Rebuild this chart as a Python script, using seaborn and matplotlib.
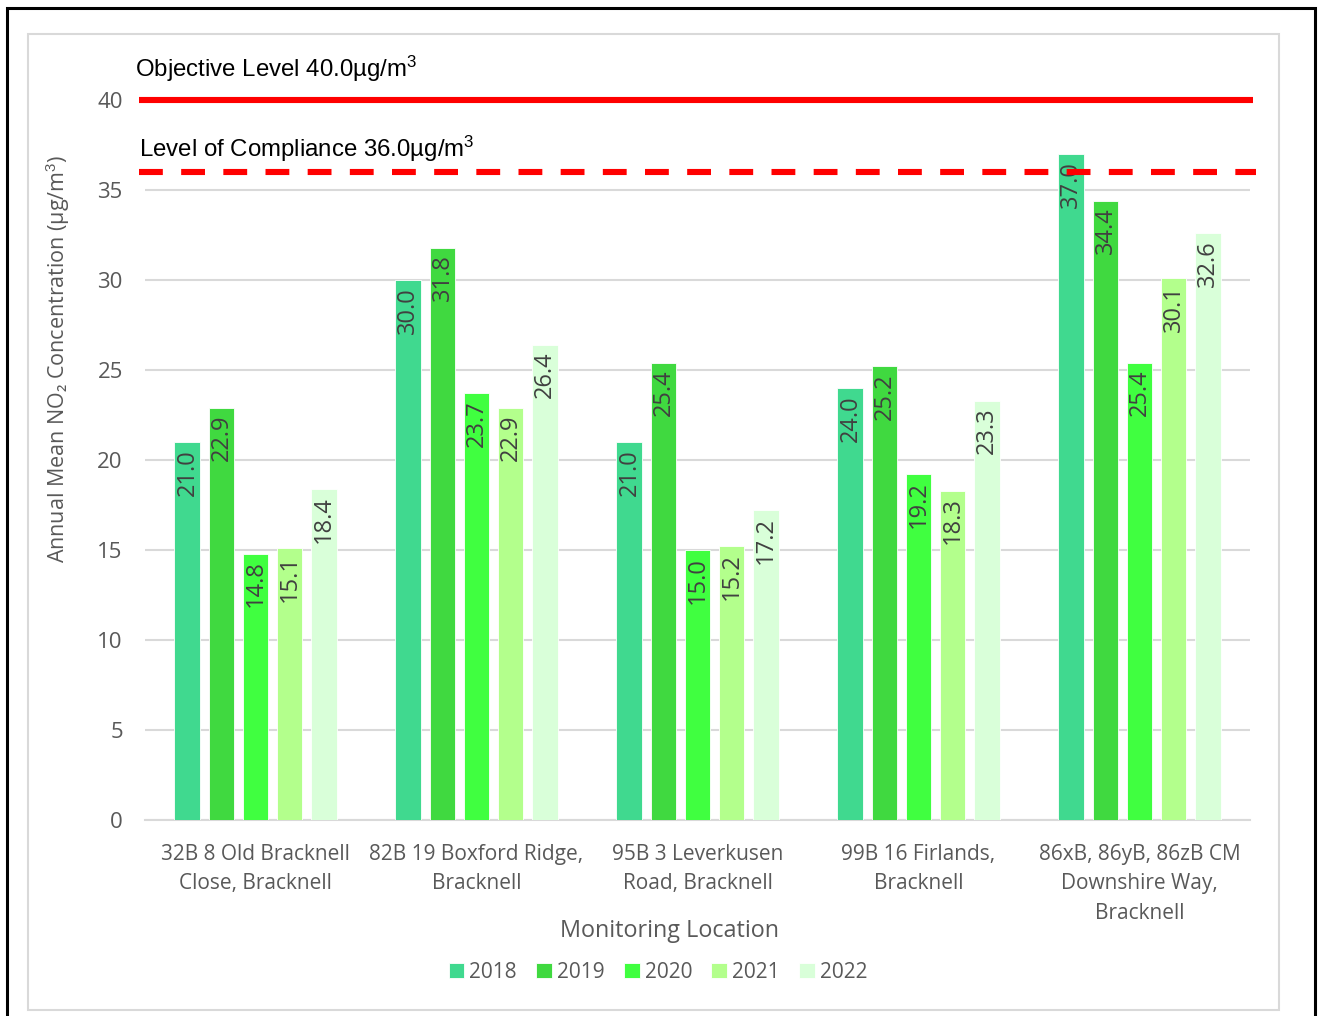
import matplotlib
matplotlib.use("Agg")
import matplotlib.pyplot as plt
import seaborn as sns
import pandas as pd
from matplotlib.patches import Rectangle

# Monitoring locations and annual mean NO2 concentrations (µg/m³)
locations = [
    "32B 8 Old Bracknell\nClose, Bracknell",
    "82B 19 Boxford Ridge,\nBracknell",
    "95B 3 Leverkusen\nRoad, Bracknell",
    "99B 16 Firlands,\nBracknell",
    "86xB, 86yB, 86zB CM\nDownshire Way,\nBracknell",
]
years = ["2018", "2019", "2020", "2021", "2022"]
values_2018 = [21.0, 30.0, 21.0, 24.0, 37.0]
values_2019 = [22.9, 31.8, 25.4, 25.2, 34.4]
values_2020 = [14.8, 23.7, 15.0, 19.2, 25.4]
values_2021 = [15.1, 22.9, 15.2, 18.3, 30.1]
values_2022 = [18.4, 26.4, 17.2, 23.3, 32.6]
year_colors = ["#40D98F", "#40D940", "#40FF40", "#B3FF8C", "#D9FFD9"]

objective_level = 40.0
compliance_level = 36.0
y_ticks = [0, 5, 10, 15, 20, 25, 30, 35, 40]

series = [values_2018, values_2019, values_2020, values_2021, values_2022]
df = pd.DataFrame(
    [(loc, yr, v) for yr, vals in zip(years, series) for loc, v in zip(locations, vals)],
    columns=["Location", "Year", "Value"],
)

sns.set_theme(style="white")
plt.rcParams["font.family"] = ["Open Sans", "DejaVu Sans"]
plt.rcParams["mathtext.fontset"] = "custom"
plt.rcParams["mathtext.rm"] = "Liberation Sans"
plt.rcParams["mathtext.it"] = "Liberation Sans"

text_grey = "#595959"

fig = plt.figure(figsize=(13.18, 10.16), dpi=100)
ax = fig.add_axes([145 / 1318, 1 - 820 / 1016, 1105 / 1318, 720 / 1016])

# Frames around the chart
fig.patches.append(Rectangle((7 / 1318, -0.01), 1308 / 1318, 1 - 8 / 1016 + 0.01,
                             transform=fig.transFigure, fill=False,
                             edgecolor="black", linewidth=2.2, zorder=0))
fig.patches.append(Rectangle((28 / 1318, 1 - 1010 / 1016), 1251 / 1318, 976 / 1016,
                             transform=fig.transFigure, fill=False,
                             edgecolor="#d9d9d9", linewidth=1.5, zorder=0))

sns.barplot(data=df, x="Location", y="Value", hue="Year", palette=year_colors,
            width=0.77, gap=0.24, edgecolor="white", linewidth=0.6,
            saturation=1, ax=ax, zorder=3)

ax.set_ylim(0, 40)
ax.set_xlim(-0.5, 4.5)
ax.set_yticks(y_ticks)
ax.yaxis.grid(True, color="#d9d9d9", linewidth=1.5, zorder=0)
ax.set_axisbelow(True)
for side in ["top", "right", "left"]:
    ax.spines[side].set_visible(False)
ax.spines["bottom"].set_color("#d9d9d9")
ax.spines["bottom"].set_linewidth(1.5)
ax.tick_params(axis="both", length=0, labelsize=15, colors=text_grey)
ax.tick_params(axis="y", pad=16, labelsize=16)
ax.tick_params(axis="x", pad=17)
for lbl in ax.get_xticklabels():
    lbl.set_linespacing(1.55)

ax.set_xlabel("Monitoring Location", fontsize=16.8, color=text_grey)
ax.xaxis.set_label_coords(0.475, -0.138)
ax.set_ylabel("Annual Mean NO₂ Concentration (µg/m$^3$)", fontsize=15.5,
              color=text_grey)
ax.yaxis.set_label_coords(-0.066, 0.640)

# Value labels inside the top of each bar
for container in ax.containers:
    for bar in container:
        h = bar.get_height()
        ax.annotate(f"{h:.1f}", (bar.get_x() + bar.get_width() / 2, h),
                    xytext=(0, -5), textcoords="offset points",
                    rotation=90, ha="center", va="top",
                    fontsize=17, color="#404040", zorder=5)

# Reference levels
ax.plot([-0.527, 4.515], [objective_level, objective_level], color="#FF0000",
        linewidth=4.4, solid_capstyle="butt", clip_on=False, zorder=6)
ax.plot([-0.527, 4.525], [compliance_level, compliance_level], color="#FF0000",
        linewidth=4.4, linestyle=(0, (3.9, 3.0)), dash_capstyle="butt",
        clip_on=False, zorder=6)
ax.text(-0.545, 41.7, "Objective Level 40.0µg/m$^3$", fontsize=17.3,
        family=["Liberation Sans"], color="black", va="center", ha="left")
ax.text(-0.527, 37.3, "Level of Compliance 36.0µg/m$^3$", fontsize=17.3,
        family=["Liberation Sans"], color="black", va="center", ha="left")

leg = ax.legend(loc="center", bbox_to_anchor=(658 / 1318, 1 - 972 / 1016),
                bbox_transform=fig.transFigure, ncol=5, frameon=False,
                fontsize=15, handlelength=0.75, handleheight=0.75,
                handletextpad=0.25, columnspacing=0.92, title=None)
for t in leg.get_texts():
    t.set_color(text_grey)

fig.savefig("out.png", dpi=100, facecolor="white")
